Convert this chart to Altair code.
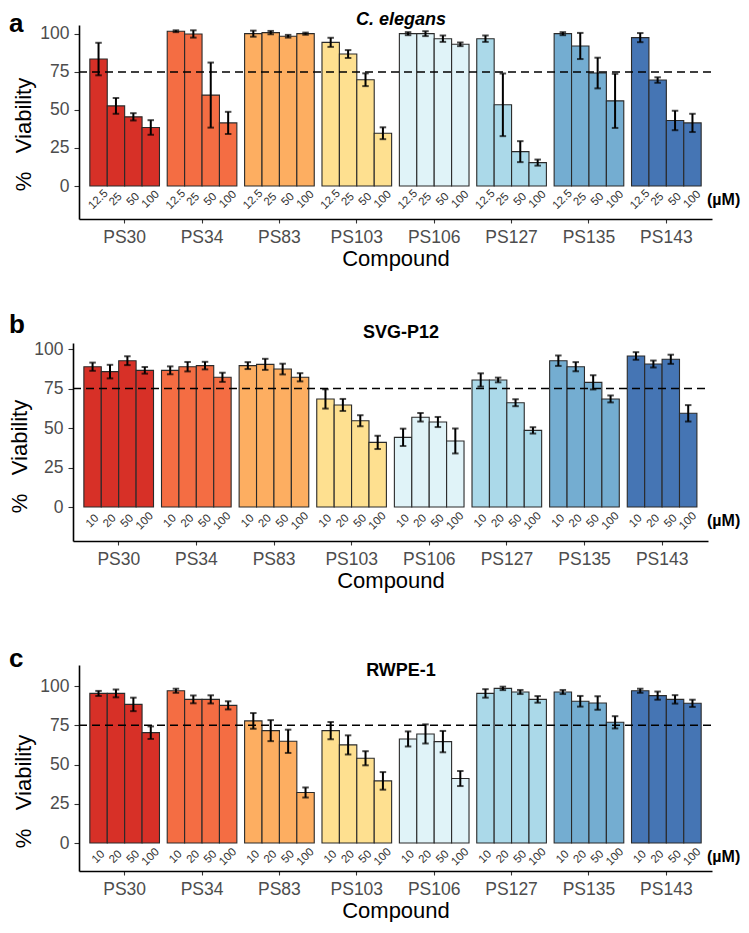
import altair as alt
import pandas as pd

compounds = ["PS30", "PS34", "PS83", "PS103", "PS106", "PS127", "PS135", "PS143"]
colors = ["#D73027", "#F46D43", "#FDAE61", "#FEE090", "#E0F3F8", "#ABD9E9", "#74ADD1", "#4575B4"]
conc_a = ["12.5", "25", "50", "100"]
conc_bc = ["10", "20", "50", "100"]
y_ticks = [0, 25, 50, 75, 100]

# Panel a: C. elegans (mean, error half-width), per compound x 4 concentrations
mean_a = [[83.5, 52.7, 45.5, 38.5], [101.8, 100.0, 59.8, 41.5], [100.2, 100.9, 98.5, 100.2],
          [94.5, 86.8, 69.9, 34.7], [100.2, 100.2, 96.9, 93.2], [96.9, 53.4, 22.6, 15.4],
          [100.2, 92.1, 74.3, 56.0], [97.6, 69.7, 43.1, 41.5]]
err_a = [[10.7, 5.2, 2.4, 4.8], [0.6, 2.4, 21.4, 7.3], [2.0, 1.1, 0.9, 0.7],
         [3.0, 2.6, 4.2, 3.9], [1.0, 1.6, 2.1, 1.2], [2.1, 20.6, 6.9, 2.0],
         [1.0, 8.6, 10.1, 17.8], [3.0, 1.8, 6.4, 6.0]]

# Panel b: SVG-P12
mean_b = [[88.8, 85.7, 92.6, 86.5], [86.5, 88.8, 89.5, 82.1], [89.5, 90.3, 87.3, 82.1],
          [68.4, 64.6, 54.6, 40.9], [44.1, 56.8, 53.8, 41.8], [80.4, 80.4, 66.0, 48.5],
          [92.6, 88.8, 78.9, 68.4], [95.6, 90.5, 93.5, 59.3]]
err_b = [[2.6, 4.3, 2.8, 2.1], [2.5, 3.0, 2.4, 2.9], [2.2, 3.5, 3.4, 2.6],
         [6.1, 3.8, 3.5, 4.2], [5.5, 2.7, 3.2, 7.9], [4.2, 1.5, 2.2, 2.0],
         [3.3, 2.9, 4.5, 2.2], [2.4, 2.2, 2.9, 5.2]]

# Panel c: RWPE-1
mean_c = [[95.3, 95.3, 88.3, 70.3], [97.0, 91.5, 91.5, 87.7], [77.8, 71.6, 64.8, 32.2],
          [71.6, 62.5, 54.0, 39.6], [66.3, 69.5, 64.6, 41.1], [95.3, 98.5, 96.2, 91.5],
          [96.2, 90.3, 89.2, 76.9], [97.0, 93.9, 91.5, 89.0]]
err_c = [[1.6, 2.5, 4.3, 4.0], [1.3, 2.5, 2.6, 2.6], [5.0, 6.7, 7.4, 3.2],
         [5.5, 6.1, 4.5, 5.6], [4.8, 6.1, 6.8, 4.8], [2.7, 1.1, 1.3, 2.1],
         [1.3, 3.4, 4.3, 3.9], [1.3, 2.6, 2.7, 2.3]]

W = 633
YTITLE = "%\u00a0\u00a0\u00a0Viability"
FONT = "Liberation Sans"


def panel(means, errs, concs, title, italic, letter, height, ydomain,
          letter_y, title_y, ytitle_y, shift, ytitle_pad, top_guard=None):
    rows = []
    for ci, comp in enumerate(compounds):
        for k, conc in enumerate(concs):
            m = means[ci][k]
            e = errs[ci][k]
            rows.append({"compound": comp, "k": k, "conc": conc,
                         "mean": m, "lo": m - e, "hi": m + e})
    df = pd.DataFrame(rows)
    one = pd.DataFrame({"z": [0]})

    if shift:
        xsc = alt.Scale(type="band", domain=compounds, paddingInner=0.1, paddingOuter=0.14,
                        range=[-shift, W - 4])
    else:
        xsc = alt.Scale(type="band", domain=compounds, paddingInner=0.1, paddingOuter=0.14)
    xax = alt.Axis(title="Compound", labelAngle=0, grid=False, domainColor="black",
                   domainWidth=1.6, tickColor="#333333", tickWidth=1.1, tickSize=4,
                   labelPadding=5, labelFontSize=17.5, labelColor="#4D4D4D",
                   titleFontSize=22, titleFontWeight="normal", titleColor="black",
                   titlePadding=3)
    ysc = alt.Scale(domain=ydomain, nice=False, zero=False)
    yax = alt.Axis(values=y_ticks, grid=False, domainColor="black", domainWidth=1.6,
                   tickColor="#333333", tickWidth=1.1, tickSize=5, labelPadding=5,
                   labelFontSize=17.5, labelColor="#4D4D4D", titleFontSize=22,
                   titleFontWeight="normal", titleColor="black", titlePadding=ytitle_pad,
                   titleY=ytitle_y, offset=shift)

    x = alt.X("compound:N", scale=xsc, axis=xax)
    xo = alt.XOffset("k:O", scale=alt.Scale(type="band", domain=[0, 1, 2, 3],
                                            paddingInner=0, paddingOuter=0))

    base = alt.Chart(df)
    bars = base.mark_bar(stroke="#2a2a2a", strokeWidth=1.1).encode(
        x=x, xOffset=xo,
        y=alt.Y("mean:Q", scale=ysc, axis=yax, title=YTITLE),
        color=alt.Color("compound:N", scale=alt.Scale(domain=compounds, range=colors), legend=None),
    )
    err = base.mark_rule(color="black", strokeWidth=2).encode(
        x=x, xOffset=xo,
        y=alt.Y("lo:Q", scale=ysc, axis=yax, title=YTITLE), y2="hi:Q",
    )
    cap_lo = base.mark_tick(color="black", size=6.5, thickness=2).encode(
        x=x, xOffset=xo, y=alt.Y("lo:Q", scale=ysc, axis=yax, title=YTITLE))
    cap_hi = base.mark_tick(color="black", size=6.5, thickness=2).encode(
        x=x, xOffset=xo, y=alt.Y("hi:Q", scale=ysc, axis=yax, title=YTITLE))
    dashed = alt.Chart(one).mark_rule(color="black", strokeWidth=1.5, strokeDash=[8, 5]).encode(
        x=alt.value(-shift), x2=alt.value(W if shift == 0 else W - 4), y=alt.YDatum(75))
    conc_text = base.mark_text(angle=315, fontSize=11.5, color="#333333", align="center",
                               baseline="middle").encode(
        x=x, xOffset=xo, y=alt.YDatum(-9), text="conc:N")
    um = alt.Chart(one).mark_text(text="(µM)", align="left", baseline="middle",
                                  fontWeight="bold", fontSize=16, color="black").encode(
        x=alt.value(628), y=alt.YDatum(-9))
    let = alt.Chart(one).mark_text(text=letter, align="left", baseline="alphabetic",
                                   fontWeight="bold", fontSize=26, color="black").encode(
        x=alt.value(-70), y=alt.value(letter_y))
    ttl = alt.Chart(one).mark_text(text=title, align="center", baseline="alphabetic",
                                   fontWeight="bold", fontStyle="italic" if italic else "normal",
                                   fontSize=18, color="black").encode(
        x=alt.value(322), y=alt.value(title_y))
    layers = [bars, err, cap_lo, cap_hi, dashed, conc_text, um, let, ttl]
    if top_guard is not None:
        # invisible spacer so the top titles keep a little headroom
        guard = alt.Chart(one).mark_rule(color="white", strokeWidth=0.5, opacity=0).encode(
            x=alt.value(200), x2=alt.value(201), y=alt.value(top_guard))
        layers.append(guard)
    return alt.layer(*layers).properties(width=W, height=height)


pa = panel(mean_a, err_a, conc_a, "C. elegans", True, "a", 194, [-21.7, 105.9], 7, 0, 109, 0, 4,
           top_guard=-17)
pb = panel(mean_b, err_b, conc_bc, "SVG-P12", False, "b", 198, [-21.5, 103.8], -10, -5, 113, 6, 2)
pc = panel(mean_c, err_c, conc_bc, "RWPE-1", False, "c", 206, [-17.8, 113.4], 2, 11, 126, 0, 4)

chart = alt.vconcat(pa, pb, pc, spacing=124, bounds="flush").properties(
    padding=0
).configure(font=FONT).configure_view(stroke=None)

chart.save("out.html", embed_options={"renderer": "svg", "actions": False})
